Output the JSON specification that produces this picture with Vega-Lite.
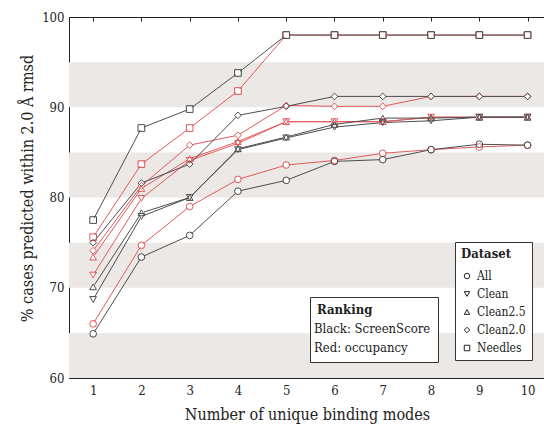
{
  "$schema": "https://vega.github.io/schema/vega-lite/v6.json",
  "width": 476,
  "height": 361,
  "autosize": {"type": "none"},
  "padding": {"left": 69, "top": 17, "right": 0, "bottom": 46},
  "config": {
    "font": "DejaVu Serif Condensed",
    "view": {"stroke": "#222", "strokeWidth": 1},
    "axis": {"domainColor": "#222", "tickColor": "#222", "labelColor": "#222", "titleColor": "#222", "grid": false, "labelFont": "DejaVu Serif Condensed", "titleFont": "DejaVu Serif Condensed", "titleFontWeight": "normal"},
    "legend": {"labelFont": "DejaVu Serif Condensed", "titleFont": "DejaVu Serif Condensed"}
  },
  "datasets": {
    "bands": [{"v": 60, "v2": 65}, {"v": 70, "v2": 75}, {"v": 80, "v2": 85}, {"v": 90, "v2": 95}],
    "pts": [
      {"x": 1, "ranking": "occupancy", "dataset": "All", "v": 66.0},
      {"x": 2, "ranking": "occupancy", "dataset": "All", "v": 74.7},
      {"x": 3, "ranking": "occupancy", "dataset": "All", "v": 79.0},
      {"x": 4, "ranking": "occupancy", "dataset": "All", "v": 82.0},
      {"x": 5, "ranking": "occupancy", "dataset": "All", "v": 83.6},
      {"x": 6, "ranking": "occupancy", "dataset": "All", "v": 84.1},
      {"x": 7, "ranking": "occupancy", "dataset": "All", "v": 84.9},
      {"x": 8, "ranking": "occupancy", "dataset": "All", "v": 85.3},
      {"x": 9, "ranking": "occupancy", "dataset": "All", "v": 85.6},
      {"x": 10, "ranking": "occupancy", "dataset": "All", "v": 85.8},
      {"x": 1, "ranking": "occupancy", "dataset": "Clean", "v": 71.4},
      {"x": 2, "ranking": "occupancy", "dataset": "Clean", "v": 79.9},
      {"x": 3, "ranking": "occupancy", "dataset": "Clean", "v": 84.1},
      {"x": 4, "ranking": "occupancy", "dataset": "Clean", "v": 86.0},
      {"x": 5, "ranking": "occupancy", "dataset": "Clean", "v": 88.4},
      {"x": 6, "ranking": "occupancy", "dataset": "Clean", "v": 88.4},
      {"x": 7, "ranking": "occupancy", "dataset": "Clean", "v": 88.4},
      {"x": 8, "ranking": "occupancy", "dataset": "Clean", "v": 88.9},
      {"x": 9, "ranking": "occupancy", "dataset": "Clean", "v": 88.9},
      {"x": 10, "ranking": "occupancy", "dataset": "Clean", "v": 88.9},
      {"x": 1, "ranking": "occupancy", "dataset": "Clean2.5", "v": 73.4},
      {"x": 2, "ranking": "occupancy", "dataset": "Clean2.5", "v": 81.0},
      {"x": 3, "ranking": "occupancy", "dataset": "Clean2.5", "v": 84.3},
      {"x": 4, "ranking": "occupancy", "dataset": "Clean2.5", "v": 86.2},
      {"x": 5, "ranking": "occupancy", "dataset": "Clean2.5", "v": 88.4},
      {"x": 6, "ranking": "occupancy", "dataset": "Clean2.5", "v": 88.4},
      {"x": 7, "ranking": "occupancy", "dataset": "Clean2.5", "v": 88.4},
      {"x": 8, "ranking": "occupancy", "dataset": "Clean2.5", "v": 88.9},
      {"x": 9, "ranking": "occupancy", "dataset": "Clean2.5", "v": 88.9},
      {"x": 10, "ranking": "occupancy", "dataset": "Clean2.5", "v": 88.9},
      {"x": 1, "ranking": "occupancy", "dataset": "Clean2.0", "v": 74.1},
      {"x": 2, "ranking": "occupancy", "dataset": "Clean2.0", "v": 81.3},
      {"x": 3, "ranking": "occupancy", "dataset": "Clean2.0", "v": 85.8},
      {"x": 4, "ranking": "occupancy", "dataset": "Clean2.0", "v": 86.9},
      {"x": 5, "ranking": "occupancy", "dataset": "Clean2.0", "v": 90.2},
      {"x": 6, "ranking": "occupancy", "dataset": "Clean2.0", "v": 90.1},
      {"x": 7, "ranking": "occupancy", "dataset": "Clean2.0", "v": 90.1},
      {"x": 8, "ranking": "occupancy", "dataset": "Clean2.0", "v": 91.2},
      {"x": 9, "ranking": "occupancy", "dataset": "Clean2.0", "v": 91.2},
      {"x": 10, "ranking": "occupancy", "dataset": "Clean2.0", "v": 91.2},
      {"x": 1, "ranking": "occupancy", "dataset": "Needles", "v": 75.6},
      {"x": 2, "ranking": "occupancy", "dataset": "Needles", "v": 83.7},
      {"x": 3, "ranking": "occupancy", "dataset": "Needles", "v": 87.7},
      {"x": 4, "ranking": "occupancy", "dataset": "Needles", "v": 91.8},
      {"x": 5, "ranking": "occupancy", "dataset": "Needles", "v": 98.0},
      {"x": 6, "ranking": "occupancy", "dataset": "Needles", "v": 98.0},
      {"x": 7, "ranking": "occupancy", "dataset": "Needles", "v": 98.0},
      {"x": 8, "ranking": "occupancy", "dataset": "Needles", "v": 98.0},
      {"x": 9, "ranking": "occupancy", "dataset": "Needles", "v": 98.0},
      {"x": 10, "ranking": "occupancy", "dataset": "Needles", "v": 98.0},
      {"x": 1, "ranking": "ScreenScore", "dataset": "All", "v": 64.9},
      {"x": 2, "ranking": "ScreenScore", "dataset": "All", "v": 73.4},
      {"x": 3, "ranking": "ScreenScore", "dataset": "All", "v": 75.8},
      {"x": 4, "ranking": "ScreenScore", "dataset": "All", "v": 80.7},
      {"x": 5, "ranking": "ScreenScore", "dataset": "All", "v": 81.9},
      {"x": 6, "ranking": "ScreenScore", "dataset": "All", "v": 84.0},
      {"x": 7, "ranking": "ScreenScore", "dataset": "All", "v": 84.2},
      {"x": 8, "ranking": "ScreenScore", "dataset": "All", "v": 85.3},
      {"x": 9, "ranking": "ScreenScore", "dataset": "All", "v": 85.9},
      {"x": 10, "ranking": "ScreenScore", "dataset": "All", "v": 85.8},
      {"x": 1, "ranking": "ScreenScore", "dataset": "Clean", "v": 68.7},
      {"x": 2, "ranking": "ScreenScore", "dataset": "Clean", "v": 77.9},
      {"x": 3, "ranking": "ScreenScore", "dataset": "Clean", "v": 80.0},
      {"x": 4, "ranking": "ScreenScore", "dataset": "Clean", "v": 85.3},
      {"x": 5, "ranking": "ScreenScore", "dataset": "Clean", "v": 86.6},
      {"x": 6, "ranking": "ScreenScore", "dataset": "Clean", "v": 87.8},
      {"x": 7, "ranking": "ScreenScore", "dataset": "Clean", "v": 88.3},
      {"x": 8, "ranking": "ScreenScore", "dataset": "Clean", "v": 88.5},
      {"x": 9, "ranking": "ScreenScore", "dataset": "Clean", "v": 88.9},
      {"x": 10, "ranking": "ScreenScore", "dataset": "Clean", "v": 88.9},
      {"x": 1, "ranking": "ScreenScore", "dataset": "Clean2.5", "v": 70.1},
      {"x": 2, "ranking": "ScreenScore", "dataset": "Clean2.5", "v": 78.3},
      {"x": 3, "ranking": "ScreenScore", "dataset": "Clean2.5", "v": 80.0},
      {"x": 4, "ranking": "ScreenScore", "dataset": "Clean2.5", "v": 85.4},
      {"x": 5, "ranking": "ScreenScore", "dataset": "Clean2.5", "v": 86.7},
      {"x": 6, "ranking": "ScreenScore", "dataset": "Clean2.5", "v": 88.1},
      {"x": 7, "ranking": "ScreenScore", "dataset": "Clean2.5", "v": 88.8},
      {"x": 8, "ranking": "ScreenScore", "dataset": "Clean2.5", "v": 88.8},
      {"x": 9, "ranking": "ScreenScore", "dataset": "Clean2.5", "v": 88.9},
      {"x": 10, "ranking": "ScreenScore", "dataset": "Clean2.5", "v": 88.9},
      {"x": 1, "ranking": "ScreenScore", "dataset": "Clean2.0", "v": 75.0},
      {"x": 2, "ranking": "ScreenScore", "dataset": "Clean2.0", "v": 81.6},
      {"x": 3, "ranking": "ScreenScore", "dataset": "Clean2.0", "v": 83.7},
      {"x": 4, "ranking": "ScreenScore", "dataset": "Clean2.0", "v": 89.1},
      {"x": 5, "ranking": "ScreenScore", "dataset": "Clean2.0", "v": 90.1},
      {"x": 6, "ranking": "ScreenScore", "dataset": "Clean2.0", "v": 91.2},
      {"x": 7, "ranking": "ScreenScore", "dataset": "Clean2.0", "v": 91.2},
      {"x": 8, "ranking": "ScreenScore", "dataset": "Clean2.0", "v": 91.2},
      {"x": 9, "ranking": "ScreenScore", "dataset": "Clean2.0", "v": 91.2},
      {"x": 10, "ranking": "ScreenScore", "dataset": "Clean2.0", "v": 91.2},
      {"x": 1, "ranking": "ScreenScore", "dataset": "Needles", "v": 77.5},
      {"x": 2, "ranking": "ScreenScore", "dataset": "Needles", "v": 87.7},
      {"x": 3, "ranking": "ScreenScore", "dataset": "Needles", "v": 89.8},
      {"x": 4, "ranking": "ScreenScore", "dataset": "Needles", "v": 93.8},
      {"x": 5, "ranking": "ScreenScore", "dataset": "Needles", "v": 98.0},
      {"x": 6, "ranking": "ScreenScore", "dataset": "Needles", "v": 98.0},
      {"x": 7, "ranking": "ScreenScore", "dataset": "Needles", "v": 98.0},
      {"x": 8, "ranking": "ScreenScore", "dataset": "Needles", "v": 98.0},
      {"x": 9, "ranking": "ScreenScore", "dataset": "Needles", "v": 98.0},
      {"x": 10, "ranking": "ScreenScore", "dataset": "Needles", "v": 98.0}
    ]
  },
  "resolve": {"axis": {"x": "independent"}},
  "layer": [
    {
      "data": {"name": "bands"},
      "mark": {"type": "rect", "color": "#ebe8e5"},
      "encoding": {
        "x": {"datum": 0.5, "type": "quantitative", "scale": {"domain": [0.5, 10.361], "nice": false, "zero": false}, "axis": null},
        "x2": {"datum": 10.361},
        "y": {"field": "v", "type": "quantitative", "scale": {"domain": [60, 100], "nice": false, "zero": false}, "title": "% cases predicted within 2.0 Å rmsd", "axis": {"values": [60, 70, 80, 90, 100], "tickSize": 0, "labelFontSize": 13, "labelPadding": 5, "titleFontSize": 16, "titlePadding": 6, "titleY": 171}},
        "y2": {"field": "v2"}
      }
    },
    {
      "data": {"name": "pts"},
      "mark": {"type": "line", "strokeWidth": 1},
      "encoding": {
        "x": {"field": "x", "type": "quantitative", "scale": {"domain": [0.5, 10.361], "nice": false, "zero": false}, "title": "Number of unique binding modes", "axis": {"orient": "bottom", "values": [1, 2, 3, 4, 5, 6, 7, 8, 9, 10], "tickSize": -4, "labelFontSize": 13, "labelPadding": 10, "titleFontSize": 16, "titlePadding": 9}},
        "y": {"field": "v", "type": "quantitative", "title": "% cases predicted within 2.0 Å rmsd", "axis": {"values": [60, 70, 80, 90, 100], "tickSize": 0, "labelFontSize": 13, "labelPadding": 5, "titleFontSize": 16, "titlePadding": 6, "titleY": 171}},
        "color": {"field": "ranking", "type": "nominal", "scale": {"domain": ["ScreenScore", "occupancy"], "range": ["#4d4d4d", "#e05a5c"]},
          "legend": {"title": "Ranking", "orient": "none", "legendX": 241, "legendY": 280, "strokeColor": "#333", "fillColor": "white", "padding": 7, "symbolSize": 0, "symbolOpacity": 0, "symbolStrokeWidth": 0, "labelOffset": -16, "labelFontSize": 13, "titleFontSize": 13, "titleFontWeight": "bold", "rowPadding": 5, "titlePadding": 5, "labelColor": "#222", "titleColor": "#222",
            "labelExpr": "datum.label == 'ScreenScore' ? 'Black: ScreenScore' : 'Red: occupancy'"}},
        "detail": {"field": "dataset"},
        "order": {"field": "x"}
      }
    },
    {
      "data": {"name": "pts"},
      "mark": {"type": "point", "filled": true, "color": "white", "shape": "circle", "size": 28, "opacity": 1},
      "encoding": {
        "x": {"field": "x", "type": "quantitative", "scale": {"domain": [0.5, 10.361], "nice": false, "zero": false}, "axis": null},
        "y": {"field": "v", "type": "quantitative", "title": "% cases predicted within 2.0 Å rmsd", "axis": {"values": [60, 70, 80, 90, 100], "tickSize": 0, "labelFontSize": 13, "labelPadding": 5, "titleFontSize": 16, "titlePadding": 6, "titleY": 171}}
      }
    },
    {
      "data": {"name": "pts"},
      "mark": {"type": "point", "filled": false, "strokeWidth": 1, "size": 45, "opacity": 1},
      "encoding": {
        "x": {"field": "x", "type": "quantitative", "scale": {"domain": [0.5, 10.361], "nice": false, "zero": false}, "axis": {"orient": "top", "values": [1, 2, 3, 4, 5, 6, 7, 8, 9, 10], "tickSize": -4, "labels": false, "title": null}},
        "y": {"field": "v", "type": "quantitative", "title": "% cases predicted within 2.0 Å rmsd", "axis": {"values": [60, 70, 80, 90, 100], "tickSize": 0, "labelFontSize": 13, "labelPadding": 5, "titleFontSize": 16, "titlePadding": 6, "titleY": 171}},
        "color": {"field": "ranking", "type": "nominal", "scale": {"domain": ["ScreenScore", "occupancy"], "range": ["#4d4d4d", "#e05a5c"]},
          "legend": {"title": "Ranking", "orient": "none", "legendX": 241, "legendY": 280, "strokeColor": "#333", "fillColor": "white", "padding": 7, "symbolSize": 0, "symbolOpacity": 0, "symbolStrokeWidth": 0, "labelOffset": -16, "labelFontSize": 13, "titleFontSize": 13, "titleFontWeight": "bold", "rowPadding": 5, "titlePadding": 5, "labelColor": "#222", "titleColor": "#222",
            "labelExpr": "datum.label == 'ScreenScore' ? 'Black: ScreenScore' : 'Red: occupancy'"}},
        "shape": {"field": "dataset", "type": "nominal", "scale": {"domain": ["All", "Clean", "Clean2.5", "Clean2.0", "Needles"], "range": ["circle", "triangle-down", "triangle-up", "diamond", "square"]},
          "legend": {"title": "Dataset", "orient": "none", "legendX": 386, "legendY": 225, "strokeColor": "#333", "fillColor": "white", "padding": 6, "symbolSize": 30, "symbolFillColor": "white", "symbolStrokeColor": "#222", "symbolStrokeWidth": 1, "labelFontSize": 12, "titleFontSize": 13, "titleFontWeight": "bold", "rowPadding": 6, "titlePadding": 9, "labelColor": "#222", "titleColor": "#222"}}
      }
    }
  ]
}
